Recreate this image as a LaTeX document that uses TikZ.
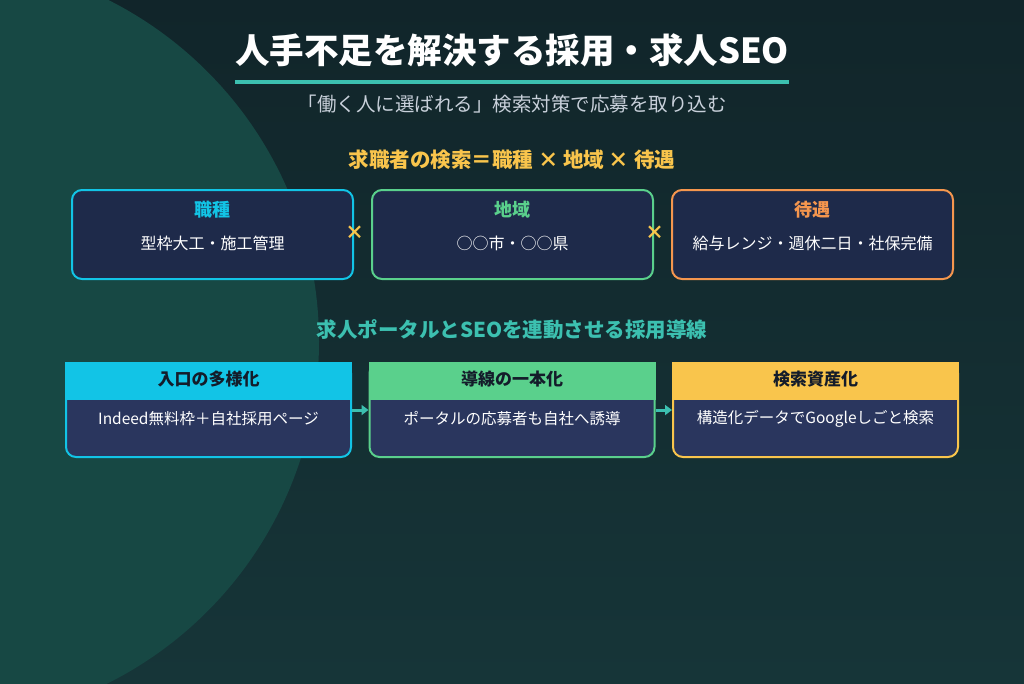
\documentclass[tikz,border=0pt]{standalone}
\usepackage{fontspec}
\setmainfont{Noto Sans CJK JP}
\usetikzlibrary{arrows.meta, positioning, calc}
\definecolor{seobgtop}{HTML}{11252A}
\definecolor{seobgbot}{HTML}{163538}
\definecolor{seocircle}{HTML}{174844}
\definecolor{seonavy}{HTML}{1E2A4A}
\definecolor{seocard}{HTML}{2A365E}
\definecolor{seoteal}{HTML}{3CC0B0}
\definecolor{seocyan}{HTML}{12C4E6}
\definecolor{seogreen}{HTML}{5AD08C}
\definecolor{seoorange}{HTML}{F5964E}
\definecolor{seoyellow}{HTML}{F9C54C}
\definecolor{seogray}{HTML}{C8D0DA}
\definecolor{seoink}{HTML}{141C2A}
\tikzset{
  searchbox/.style={
    rectangle, rounded corners=10pt, line width=2pt,
    fill=seonavy, minimum width=281pt, minimum height=89pt
  },
  boxtitle/.style={font=\bfseries\fontsize{18}{22}\selectfont},
  boxtext/.style={font=\fontsize{16}{20}\selectfont, text=white},
  flowcard/.style={
    rectangle, rounded corners=10pt, line width=2pt,
    fill=seocard, minimum width=285pt, minimum height=94pt
  },
  cardhead/.style={font=\bfseries\fontsize{17}{21}\selectfont, text=seoink},
  cardtext/.style={font=\fontsize{15.5}{20}\selectfont, text=white},
  sectionhead/.style={font=\bfseries\fontsize{20.5}{24}\selectfont},
  timesmark/.style={font=\bfseries\fontsize{19}{20}\selectfont, text=seoyellow},
  flowarrow/.style={-{Triangle[length=7pt,width=10pt]}, line width=3pt, draw=seoteal}
}

\begin{document}
\begin{tikzpicture}[x=1pt, y=-1pt]
\useasboundingbox (0,0) rectangle (1024,683);

% background
\shade[top color=seobgtop, bottom color=seobgbot] (0,0) rectangle (1024,683);
\begin{scope}
  \clip (0,0) rectangle (1024,683);
  \fill[seocircle] (-63,341.5) circle[radius=382];
\end{scope}

% title
\node[inner sep=0pt, text=white, font=\bfseries\fontsize{34.5}{40}\selectfont] (title) at (512,50) {人手不足を解決する採用・求人SEO};
\draw[seoteal, line width=4pt] (title.west |- 0,82) -- (title.east |- 0,82);
\node[text=seogray, font=\fontsize{19.5}{24}\selectfont] (subtitle) at (512,104) {「働く人に選ばれる」検索対策で応募を取り込む};

% search axes
\node[sectionhead, text=seoyellow] (searchhead) at (512,160) {求職者の検索＝職種 × 地域 × 待遇};

\node[searchbox, draw=seocyan] (kind) at (212.5,234.5) {};
\node[searchbox, draw=seogreen, right=17pt of kind] (area) {};
\node[searchbox, draw=seoorange, right=17pt of area] (pay) {};

\node[boxtitle, text=seocyan] (kindtitle) at ($(kind.north)+(0,21)$) {職種};
\node[boxtext] (kindtext) at ($(kind.north)+(0,54)$) {型枠大工・施工管理};
\node[boxtitle, text=seogreen] (areatitle) at ($(area.north)+(0,21)$) {地域};
\node[boxtext] (areatext) at ($(area.north)+(0,54)$) {○○市・○○県};
\node[boxtitle, text=seoorange] (paytitle) at ($(pay.north)+(0,21)$) {待遇};
\node[boxtext] (paytext) at ($(pay.north)+(0,54)$) {給与レンジ・週休二日・社保完備};

\node[timesmark] (times1) at ($(kind.east)+(1,-2)$) {×};
\node[timesmark] (times2) at ($(area.east)+(1,-2)$) {×};

% recruiting flow
\node[sectionhead, text=seoteal] (flowhead) at (512,330) {求人ポータルとSEOを連動させる採用導線};

\node[flowcard, draw=seocyan] (entry) at (208.5,410) {};
\node[flowcard, draw=seogreen, right=16.5pt of entry] (unify) {};
\node[flowcard, draw=seoyellow, right=16.5pt of unify] (asset) {};

\foreach \c/\col in {entry/seocyan, unify/seogreen, asset/seoyellow}
  \fill[\col] (\c.north west) rectangle ($(\c.north east)+(0,38)$);

\node[cardhead] (entryhead) at ($(entry.north)+(0,17)$) {入口の多様化};
\node[cardtext] (entrytext) at ($(entry.north)+(0,57)$) {Indeed無料枠＋自社採用ページ};
\node[cardhead] (unifyhead) at ($(unify.north)+(0,17)$) {導線の一本化};
\node[cardtext] (unifytext) at ($(unify.north)+(0,57)$) {ポータルの応募者も自社へ誘導};
\node[cardhead] (assethead) at ($(asset.north)+(0,17)$) {検索資産化};
\node[cardtext] (assettext) at ($(asset.north)+(0,57)$) {構造化データでGoogleしごと検索};

\foreach \a/\b in {entry/unify, unify/asset}
  \draw[flowarrow] (\a) -- (\b);
\end{tikzpicture}
\end{document}
